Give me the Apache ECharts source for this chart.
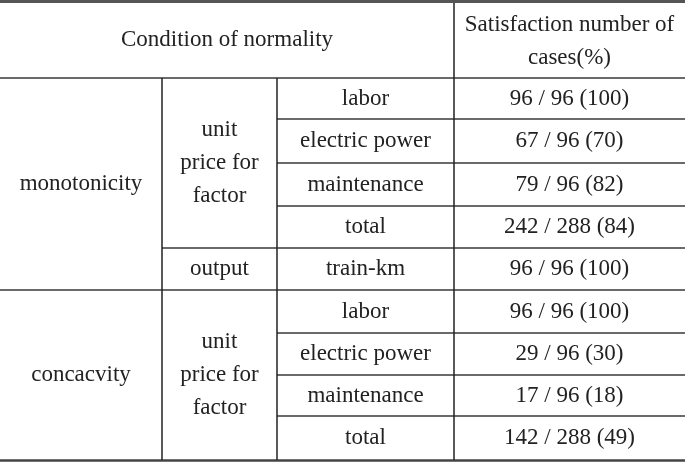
<!DOCTYPE html>
<html><head><meta charset="utf-8">
<script src="https://cdn.jsdelivr.net/npm/echarts@6/dist/echarts.min.js"></script>
<style>html,body{margin:0;padding:0;background:#fff}#c{width:685px;height:464px}</style>
</head><body><div id="c"></div>
<script>
const headerLeft = "Condition of normality";
const headerRight = ["Satisfaction number of", "cases(%)"];
const groups = ["monotonicity", "concacvity"];
const subgroups = ["unit\nprice for\nfactor", "output", "unit\nprice for\nfactor"];
const items = ["labor","electric power","maintenance","total","train-km","labor","electric power","maintenance","total"];
const values = ["96 / 96 (100)","67 / 96 (70)","79 / 96 (82)","242 / 288 (84)","96 / 96 (100)","96 / 96 (100)","29 / 96 (30)","17 / 96 (18)","142 / 288 (49)"];

const chart = echarts.init(document.getElementById('c'));
const colX = [0, 162, 277, 454, 685];
const rowY = [3, 78, 119, 163, 206, 248, 290, 333, 375, 416, 460];
const font = '23px "Liberation Serif", serif';
const g = [];
function txt(x, y, s, lh) {
  g.push({type:'text', x, y, style:{text:s, font, fill:'#222', align:'center', verticalAlign:'middle', lineHeight: lh||33}});
}
function hline(x1, x2, y, w, c) {
  g.push({type:'line', shape:{x1, y1:y, x2, y2:y}, style:{stroke:c||'#6a6a6a', lineWidth:w||2}});
}
function vline(x, y1, y2) {
  g.push({type:'line', shape:{x1:x, y1, x2:x, y2}, style:{stroke:'#222', lineWidth:1.5}});
}
// borders
hline(0, 685, 1.5, 3, '#555');
hline(0, 685, 78, 2);
hline(0, 685, 460.5, 2.5, '#444');
// inner horizontal lines
[2,3,4].forEach(i => hline(colX[2], 685, rowY[i]));
hline(colX[1], 685, rowY[5]);
hline(0, 685, rowY[6]);
[7,8,9].forEach(i => hline(colX[2], 685, rowY[i]));
// verticals
vline(colX[3], 3, 460);
vline(colX[1], 78, 460);
vline(colX[2], 78, 460);
// header
txt((colX[0]+colX[3])/2, 40, headerLeft);
txt((colX[3]+colX[4])/2, 25, headerRight[0]);
txt((colX[3]+colX[4])/2, 58, headerRight[1]);
// groups
txt((colX[0]+colX[1])/2, (rowY[1]+rowY[6])/2, groups[0]);
txt((colX[0]+colX[1])/2, (rowY[6]+rowY[10])/2, groups[1]);
txt((colX[1]+colX[2])/2, (rowY[1]+rowY[5])/2, subgroups[0]);
txt((colX[1]+colX[2])/2, (rowY[5]+rowY[6])/2, subgroups[1]);
txt((colX[1]+colX[2])/2, (rowY[6]+rowY[10])/2, subgroups[2]);
items.forEach((s, i) => {
  const y = (rowY[i+1]+rowY[i+2])/2;
  txt((colX[2]+colX[3])/2, y, s);
  txt((colX[3]+colX[4])/2, y, values[i]);
});
chart.setOption({animation:false, graphic:{elements:g}});
</script></body></html>
